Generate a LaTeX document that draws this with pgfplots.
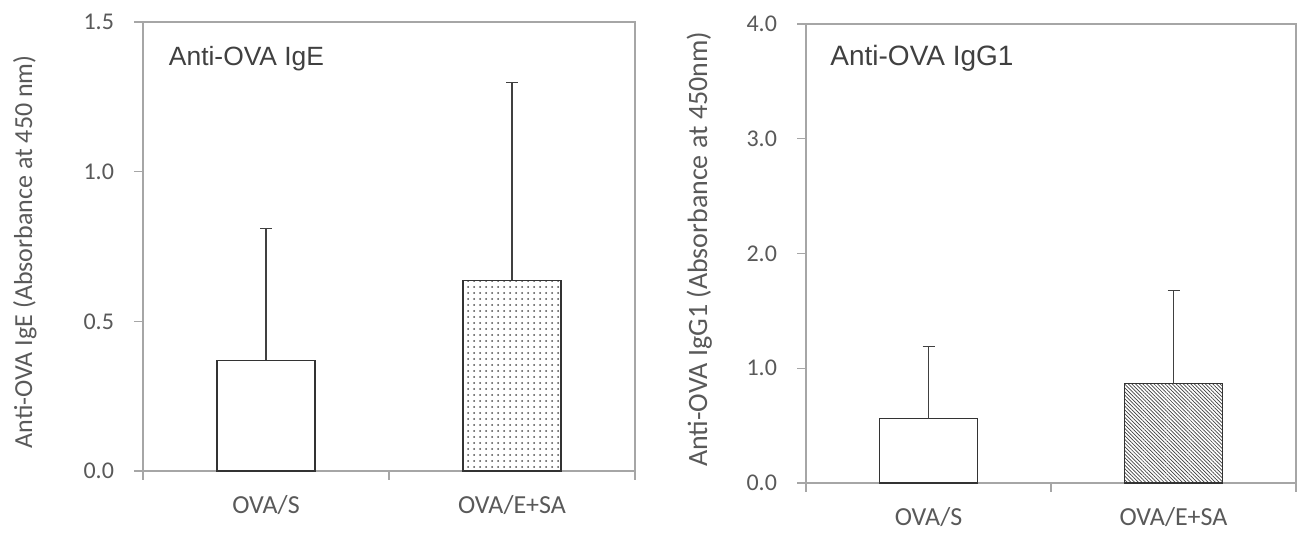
\documentclass[border=0pt]{standalone}
\usepackage{pgfplots}
\pgfplotsset{compat=1.18}
\usetikzlibrary{patterns.meta}
\usepackage{fontspec}
\setmainfont{Carlito}
\newfontfamily\arialfont{Liberation Sans}
\definecolor{txt}{HTML}{595959}
\definecolor{axgray}{HTML}{A6A6A6}

\tikzset{ttl/.style={anchor=base west, inner sep=0pt, text=black!75}}

\pgfplotsset{
  excelbar/.style={
    scale only axis,
    clip=false,
    ybar, bar width=49pt, bar shift=0pt,
    xmin=0, xmax=2,
    xtick={0,1,2},
    xticklabels={OVA/S,OVA/E+SA},
    x tick label as interval,
    ymin=0,
    axis line style={axgray, line width=0.6pt},
    tick style={axgray, line width=0.6pt},
    major tick length=4.5pt,
    tick align=outside,
    tick pos=left,
    /pgf/number format/assume math mode=true,
    yticklabel style={font=\fontsize{12}{14}\selectfont, text=txt, xshift=-6.5pt,
      /pgf/number format/fixed, /pgf/number format/fixed zerofill,
      /pgf/number format/precision=1},
    xticklabel style={font=\fontsize{13}{15}\selectfont, text=txt, yshift=-4pt},
    ylabel style={text=txt, anchor=center},
    every axis plot/.append style={draw=black!80, line width=0.6pt},
    error bars/y dir=plus,
    error bars/y explicit,
    error bars/error bar style={black!75, line width=0.6pt},
    error bars/error mark options={rotate=90, black!75, mark size=3pt, line width=0.6pt},
  },
}

\begin{document}
\begin{tikzpicture}
\path[use as bounding box] (0,0) rectangle (652pt,269.5pt);

% left panel: IgE
\begin{axis}[excelbar,
  at={(71.5pt,34pt)}, anchor=south west,
  width=246pt, height=224.5pt,
  ymax=1.5, ytick={0,0.5,1,1.5},
  ylabel={Anti-OVA IgE (Absorbance at 450 nm)},
  ylabel style={at={(axis description cs:-0.24,0.488)}, font=\fontsize{13}{15}\selectfont},
]
\addplot[fill=white] coordinates {(0.5,0.37) +- (0,0.44)};
\addplot[pattern={Dots[distance=3pt, radius=0.5pt]}, pattern color=black!70]
  coordinates {(1.5,0.637) +- (0,0.66)};
\node[ttl, font=\arialfont\fontsize{13.2}{15}\selectfont] at (rel axis cs:0.052,0.903) {Anti-OVA IgE};
\end{axis}

% right panel: IgG1
\begin{axis}[excelbar,
  at={(403pt,28pt)}, anchor=south west,
  width=245pt, height=229.5pt,
  ymax=4, ytick={0,1,2,3,4},
  ylabel={Anti-OVA IgG1 (Absorbance at 450nm)},
  ylabel style={at={(axis description cs:-0.218,0.509)}, font=\fontsize{14}{16}\selectfont},
]
\addplot[fill=white] coordinates {(0.5,0.56) +- (0,0.63)};
\addplot[pattern={Lines[angle=-45, distance=1.3pt, line width=0.35pt]}, pattern color=black!75]
  coordinates {(1.5,0.864) +- (0,0.814)};
\node[ttl, font=\arialfont\fontsize{14}{16}\selectfont] at (rel axis cs:0.049,0.91) {Anti-OVA IgG1};
\end{axis}
\end{tikzpicture}
\end{document}
